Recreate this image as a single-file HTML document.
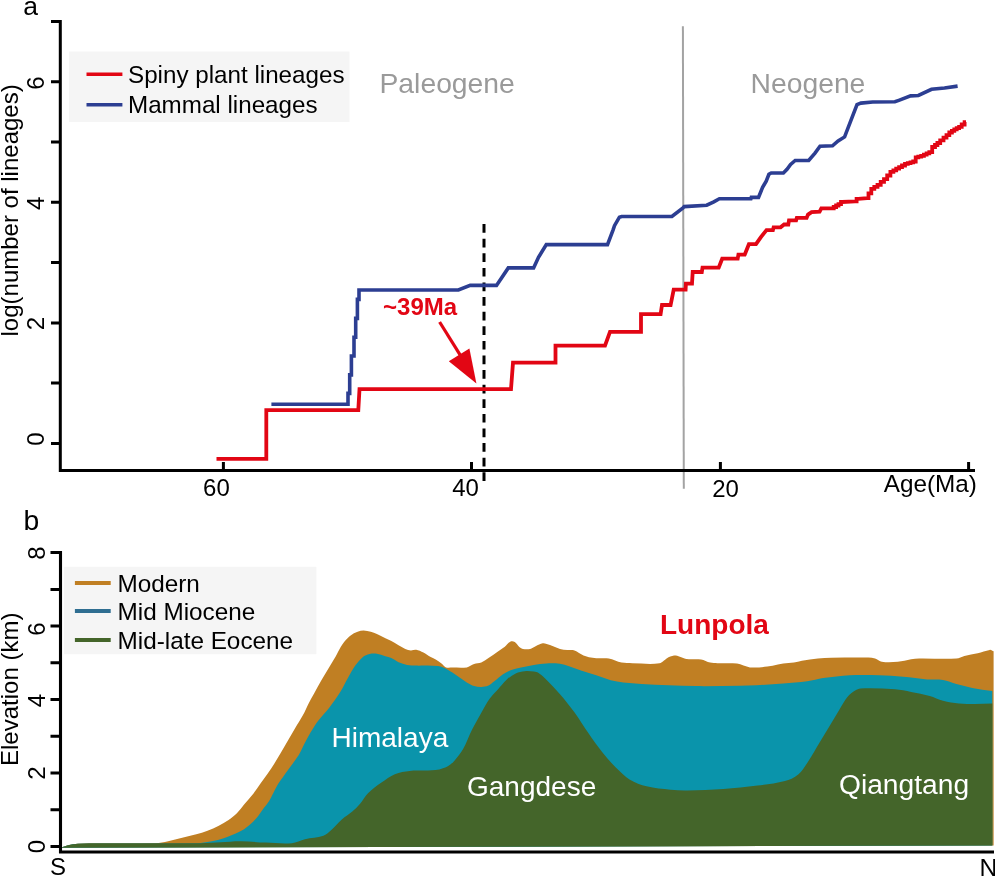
<!DOCTYPE html>
<html><head><meta charset="utf-8"><title>Lineages and elevation</title>
<style>
html,body{margin:0;padding:0;background:#fff;width:995px;height:876px;overflow:hidden}
svg{display:block;will-change:transform}
text{font-family:"Liberation Sans",sans-serif}
.t{fill:#000}
</style></head><body>
<svg width="995" height="876" viewBox="0 0 995 876"><rect width="995" height="876" fill="#fff"/><text x="23.3" y="14.8" class="t" font-size="26.5">a</text><rect x="69" y="51.5" width="280.5" height="70.5" fill="#f5f5f5"/><line x1="86.5" y1="74.3" x2="122.4" y2="74.3" stroke="#e20614" stroke-width="3.6"/><line x1="86.5" y1="104.8" x2="122.4" y2="104.8" stroke="#2c3e92" stroke-width="3.6"/><text x="128" y="82.8" class="t" font-size="24.2">Spiny plant lineages</text><text x="128" y="113" class="t" font-size="24.2">Mammal lineages</text><text x="379.5" y="93" font-size="28.3" fill="#9a9a9a" class="t2">Paleogene</text><text x="750.5" y="93" font-size="28.3" fill="#9a9a9a" class="t2">Neogene</text><line x1="682.9" y1="26.2" x2="683.8" y2="488.8" stroke="#a3a3a3" stroke-width="2"/><path d="M60.3,20 V470.5 M58.8,470.5 H975" stroke="#000" stroke-width="3" fill="none"/><path d="M51,443.4 H60.3 M51,383.1 H60.3 M51,322.9 H60.3 M51,262.6 H60.3 M51,202.3 H60.3 M51,142.0 H60.3 M51,81.8 H60.3 M51,21.5 H60.3 " stroke="#000" stroke-width="3" fill="none"/><path d="M223.4,462 V470.5 M471.5,462 V470.5 M720.4,462 V470.5 M968.6,462 V470.5 " stroke="#000" stroke-width="3" fill="none"/><text transform="translate(44.2,439) rotate(-90)" text-anchor="middle" class="t" font-size="24">0</text><text transform="translate(44.2,323.5) rotate(-90)" text-anchor="middle" class="t" font-size="24">2</text><text transform="translate(44.2,203.4) rotate(-90)" text-anchor="middle" class="t" font-size="24">4</text><text transform="translate(44.2,83) rotate(-90)" text-anchor="middle" class="t" font-size="24">6</text><text transform="translate(17.7,210.4) rotate(-90)" text-anchor="middle" class="t" font-size="24">log(number of lineages)</text><text x="216.4" y="496.1" text-anchor="middle" class="t" font-size="24">60</text><text x="465.6" y="495.8" text-anchor="middle" class="t" font-size="24">40</text><text x="725.6" y="497" text-anchor="middle" class="t" font-size="24">20</text><text x="883.8" y="492.2" class="t" font-size="24.3">Age(Ma)</text><line x1="484" y1="224.1" x2="484" y2="481.2" stroke="#000" stroke-width="3" stroke-dasharray="8.7 5.9"/><polyline points="216.5,458.9 266.3,458.9 266.3,410.1 358.3,410.1 359.5,389.2 511.0,389.2 513.0,362.6 555.5,362.6 555.5,345.7 605.0,345.7 610.0,331.8 641.0,331.8 641.0,314.2 660.6,314.2 662.0,305.0 670.6,305.0 673.7,289.6 685.6,289.6 685.9,283.6 692.0,283.6 692.7,272.0 701.8,272.0 702.5,267.7 718.7,267.7 722.2,258.7 737.7,258.7 738.4,254.7 744.7,254.7 748.9,244.2 756.0,244.2 760.9,237.1 766.5,230.1 772.9,230.1 773.6,227.3 780.6,227.3 784.1,224.5 788.3,224.5 789.0,220.3 796.1,220.3 796.8,217.9 806.6,217.9 808.0,214.6 811.6,212.2 819.6,211.6 821.3,208.4 832.5,208.4 833.7,208.4 833.7,207.0 834.9,207.0 836.1,207.0 836.1,205.5 837.3,205.5 838.5,205.5 838.5,204.1 839.7,204.1 841.0,204.1 841.0,202.0 842.2,202.0 855.0,201.3 856.6,201.3 856.6,198.8 858.2,198.8 867.1,198.1 868.5,198.1 868.5,193.4 869.9,193.4 871.3,193.4 871.3,188.8 872.7,188.8 874.3,188.8 874.3,186.8 875.9,186.8 877.5,186.8 877.5,184.8 879.1,184.8 880.7,184.8 880.7,181.9 882.4,181.9 884.0,181.9 884.0,179.1 885.6,179.1 887.2,179.1 887.2,175.5 888.8,175.5 890.4,175.5 890.4,171.9 892.0,171.9 893.4,171.9 893.4,170.3 894.8,170.3 896.2,170.3 896.2,168.7 897.6,168.7 899.1,168.7 899.1,167.1 900.6,167.1 902.0,167.1 902.0,165.5 903.5,165.5 905.0,165.5 905.0,163.9 906.5,163.9 907.8,163.9 907.8,163.1 909.2,163.1 910.5,163.1 910.5,162.3 911.8,162.3 913.2,162.3 913.2,161.5 914.5,161.5 915.7,161.5 915.7,157.4 916.9,157.4 918.3,157.4 918.3,156.6 919.8,156.6 921.2,156.6 921.2,155.8 922.6,155.8 923.9,155.8 923.9,154.6 925.3,154.6 926.6,154.6 926.6,153.3 927.9,153.3 929.3,153.3 929.3,152.1 930.6,152.1 932.2,152.1 932.2,147.0 933.8,147.0 935.0,147.0 935.0,145.0 936.2,145.0 937.4,145.0 937.4,143.0 938.6,143.0 940.2,143.0 940.2,140.3 941.9,140.3 943.5,140.3 943.5,137.7 945.1,137.7 946.5,137.7 946.5,135.1 947.9,135.1 949.3,135.1 949.3,132.5 950.7,132.5 951.9,132.5 951.9,130.9 953.1,130.9 954.3,130.9 954.3,129.3 955.5,129.3 956.7,129.3 956.7,128.1 957.9,128.1 959.1,128.1 959.1,126.9 960.3,126.9 961.7,126.9 961.7,124.5 963.1,124.5 964.6,124.5 964.6,122.1 966.0,122.1" fill="none" stroke="#e20614" stroke-width="3.8" stroke-linejoin="miter"/><polyline points="271.4,404.2 348.0,404.2 348.0,393.4 349.7,393.4 349.7,374.9 351.4,374.9 351.4,356.0 354.0,356.0 354.0,337.2 355.7,337.2 355.7,318.4 357.4,318.4 357.4,299.4 359.0,299.4 359.0,290.0 458.4,290.0 470.2,285.4 496.5,285.4 508.3,267.9 533.6,267.9 538.5,257.3 546.3,244.6 607.5,244.6 613.1,229.9 614.5,225.7 619.4,217.2 621.6,216.5 671.9,216.5 683.0,207.9 684.2,206.6 706.7,205.2 713.8,201.9 719.4,198.8 750.9,198.7 751.3,197.4 758.5,197.4 762.6,187.4 766.2,181.1 768.9,174.3 771.2,173.0 783.4,173.0 787.0,169.3 790.6,164.4 795.2,160.5 808.7,160.5 815.0,153.1 820.0,146.3 832.5,145.8 838.1,141.0 844.6,136.9 857.0,104.6 860.9,103.1 872.7,102.0 894.9,101.8 898.8,100.4 910.6,95.9 918.4,95.5 931.5,89.3 944.5,88.0 957.6,86.1" fill="none" stroke="#2c3e92" stroke-width="3.6" stroke-linejoin="miter"/><line x1="439.6" y1="322" x2="460.4" y2="355.3" stroke="#e20614" stroke-width="3.2"/><polygon points="448.8,361.2 469.4,348.4 476.4,383.5" fill="#e20614"/><text x="383.1" y="314.9" font-size="24" font-weight="bold" fill="#e20614" class="t2">~39Ma</text><text x="23.4" y="529.6" class="t" font-size="28.3">b</text><path d="M60,847.7 L62.0,847.3 C64.0,846.6 66.0,845.6 68.0,845.2 C71.3,844.5 74.7,843.9 78.0,843.8 C103.8,843.2 129.7,844.0 155.5,843.3 C159.7,843.2 163.9,842.1 168.1,841.2 C172.8,840.2 177.5,838.9 182.2,837.7 C186.9,836.5 191.6,835.5 196.3,834.2 C200.0,833.2 203.8,832.1 207.5,830.7 C211.3,829.3 215.0,827.6 218.8,825.7 C222.1,824.1 225.3,822.3 228.6,820.1 C231.4,818.1 234.3,815.9 237.1,813.1 C239.4,810.8 241.8,807.4 244.1,804.6 C247.3,800.8 250.5,797.3 253.7,793.2 C256.0,790.3 258.2,786.8 260.5,783.6 C262.8,780.4 265.1,777.4 267.4,774.0 C270.1,770.0 272.9,766.0 275.6,761.6 C278.8,756.4 282.0,750.7 285.2,745.2 C288.4,739.7 291.6,734.2 294.8,728.8 C297.5,724.2 300.3,720.1 303.0,715.1 C304.7,712.0 306.4,707.7 308.1,704.4 C310.1,700.5 312.1,697.2 314.1,693.6 C316.5,689.2 319.0,684.6 321.4,680.3 C323.8,676.1 326.2,672.2 328.6,668.2 C331.0,664.2 333.4,660.4 335.8,656.2 C337.4,653.4 339.1,649.9 340.7,647.1 C341.9,645.1 343.1,643.1 344.3,641.7 C346.3,639.3 348.3,637.2 350.3,635.7 C352.7,633.9 355.2,632.7 357.6,631.8 C359.6,631.0 361.6,630.6 363.6,630.6 C366.0,630.6 368.4,631.2 370.8,631.8 C372.8,632.3 374.9,633.1 376.9,633.9 C377.9,634.3 379.0,634.9 380.0,635.4 C383.6,637.2 387.3,638.9 390.9,640.8 C395.7,643.4 400.5,646.6 405.3,648.9 C407.1,649.8 409.0,650.2 410.8,650.4 C412.6,650.5 414.4,649.5 416.2,649.8 C418.6,650.2 421.0,651.4 423.4,652.6 C425.8,653.8 428.3,655.7 430.7,657.1 C432.5,658.1 434.3,658.8 436.1,659.8 C437.9,660.8 439.7,662.0 441.5,663.4 C443.0,664.6 444.5,666.8 446.0,667.4 C448.1,668.2 450.3,667.6 452.4,667.6 C457.2,667.6 462.0,668.2 466.8,667.4 C469.2,667.0 471.7,664.8 474.1,664.0 C476.5,663.2 478.9,663.5 481.3,662.5 C483.7,661.5 486.1,659.6 488.5,658.0 C491.5,656.0 494.6,653.8 497.6,651.7 C500.0,650.1 502.4,648.7 504.8,646.8 C506.6,645.4 508.4,642.5 510.2,641.7 C511.7,641.0 513.3,641.2 514.8,642.1 C516.3,643.0 517.8,645.8 519.3,647.1 C520.5,648.1 521.7,648.7 522.9,648.9 C525.3,649.3 527.7,649.4 530.1,648.9 C531.9,648.5 533.8,647.0 535.6,646.2 C538.0,645.1 540.4,643.4 542.8,643.2 C545.2,643.0 547.6,644.2 550.0,645.0 C553.3,646.1 556.7,647.9 560.0,648.9 C562.4,649.6 564.8,649.7 567.2,650.0 C569.6,650.3 572.1,649.7 574.5,650.5 C577.5,651.5 580.5,654.3 583.5,655.4 C587.1,656.8 590.8,657.7 594.4,658.1 C599.2,658.7 604.0,657.7 608.8,658.5 C613.0,659.2 617.3,661.8 621.5,662.6 C625.1,663.3 628.8,663.1 632.4,663.2 C641.4,663.3 650.5,664.7 659.5,663.2 C662.5,662.7 665.5,658.6 668.5,657.2 C670.9,656.0 673.4,655.4 675.8,655.4 C677.6,655.4 679.4,656.6 681.2,657.2 C683.0,657.8 684.8,658.8 686.6,659.0 C691.4,659.6 696.3,658.8 701.1,659.5 C704.1,660.0 707.1,661.9 710.1,662.6 C712.5,663.2 715.0,663.1 717.4,663.2 C723.9,663.4 730.5,662.8 737.0,663.6 C741.3,664.2 745.7,667.0 750.0,667.4 C755.8,668.0 761.5,667.2 767.3,666.6 C770.8,666.2 774.4,665.2 777.9,664.5 C779.7,664.1 781.5,663.6 783.3,663.4 C786.8,663.0 790.4,663.1 793.9,662.6 C796.6,662.2 799.2,661.2 801.9,660.8 C807.2,659.9 812.6,659.1 817.9,658.6 C822.3,658.1 826.8,657.9 831.2,657.8 C843.6,657.6 856.1,657.4 868.5,657.6 C870.7,657.6 872.9,657.9 875.1,658.6 C877.3,659.3 879.6,661.5 881.8,661.8 C887.1,662.6 892.5,662.3 897.8,661.8 C902.2,661.4 906.7,659.9 911.1,659.2 C913.8,658.8 916.4,658.6 919.1,658.6 C931.5,658.4 944.0,659.3 956.4,658.6 C959.1,658.4 961.7,656.7 964.4,656.0 C968.8,654.9 973.3,654.4 977.7,653.3 C981.7,652.3 985.7,650.6 989.7,649.9 C990.6,649.7 991.4,650.4 992.3,650.7 L993.6,651.2 L993.6,845.6 Z" fill="#c07f23"/><path d="M60,847.7 L62.0,847.3 C64.0,846.6 66.0,845.6 68.0,845.2 C71.3,844.5 74.7,843.9 78.0,843.8 C116.5,843.2 155.0,843.9 193.5,843.3 C198.2,843.2 202.8,842.5 207.5,841.9 C211.3,841.4 215.0,840.7 218.8,839.8 C221.6,839.1 224.4,838.0 227.2,837.0 C230.0,835.9 232.9,834.8 235.7,833.5 C238.5,832.2 241.3,831.0 244.1,829.2 C246.5,827.7 248.8,825.8 251.2,823.6 C253.5,821.4 255.9,818.8 258.2,815.9 C260.1,813.6 261.9,810.7 263.8,808.1 C265.5,805.8 267.1,804.1 268.8,801.4 C270.4,798.9 272.0,795.5 273.6,792.5 C275.2,789.5 276.8,786.1 278.4,783.6 C281.6,778.6 284.8,774.4 288.0,769.9 C291.6,764.8 295.3,760.6 298.9,754.8 C300.7,751.9 302.6,747.3 304.4,743.8 C306.4,739.9 308.5,735.9 310.5,732.5 C313.0,728.3 315.5,724.3 318.0,721.0 C321.9,715.8 325.9,712.1 329.8,706.9 C333.4,702.1 337.1,697.0 340.7,691.2 C343.1,687.4 345.5,682.1 347.9,677.9 C350.3,673.7 352.7,669.2 355.1,665.8 C357.5,662.4 360.0,659.4 362.4,657.4 C364.8,655.5 367.2,654.7 369.6,654.1 C372.0,653.5 374.5,653.5 376.9,653.8 C379.7,654.2 382.5,655.4 385.3,656.2 C387.3,656.8 389.3,657.1 391.3,658.0 C393.7,659.1 396.2,661.1 398.6,662.2 C401.4,663.4 404.3,664.4 407.1,664.9 C410.1,665.5 413.2,665.5 416.2,665.6 C419.8,665.7 423.4,665.5 427.0,665.6 C430.6,665.7 434.3,665.7 437.9,666.1 C439.7,666.3 441.5,666.6 443.3,667.4 C446.3,668.7 449.4,670.6 452.4,672.5 C454.8,674.0 457.2,675.9 459.6,677.5 C462.0,679.1 464.4,681.0 466.8,682.4 C469.2,683.8 471.7,685.2 474.1,686.0 C476.5,686.7 478.9,687.0 481.3,686.9 C483.7,686.8 486.1,686.5 488.5,685.5 C490.3,684.7 492.2,682.9 494.0,681.5 C497.0,679.2 500.0,676.3 503.0,674.3 C506.0,672.3 509.1,670.9 512.1,669.7 C515.1,668.6 518.1,668.1 521.1,667.4 C525.3,666.5 529.6,665.6 533.8,664.9 C538.0,664.2 542.2,663.6 546.4,663.4 C550.9,663.2 555.5,663.2 560.0,663.8 C563.0,664.2 566.0,665.2 569.0,666.2 C573.2,667.6 577.5,669.4 581.7,670.8 C586.5,672.4 591.4,673.7 596.2,675.3 C601.0,676.9 605.9,678.9 610.7,680.2 C614.9,681.3 619.1,682.0 623.3,682.5 C629.3,683.2 635.4,683.6 641.4,684.0 C650.4,684.5 659.5,684.9 668.5,685.2 C677.6,685.6 686.6,686.0 695.7,686.1 C710.5,686.2 725.2,686.0 740.0,685.8 C745.5,685.7 751.1,685.6 756.6,685.3 C765.5,684.8 774.4,684.1 783.3,683.4 C791.3,682.8 799.2,682.4 807.2,681.3 C812.5,680.6 817.9,678.9 823.2,678.1 C832.1,676.8 840.9,675.7 849.8,675.2 C859.6,674.7 869.3,674.9 879.1,675.2 C887.1,675.4 895.1,676.1 903.1,676.8 C911.1,677.5 919.1,678.8 927.1,679.4 C932.4,679.8 937.7,679.2 943.0,680.0 C947.5,680.7 951.9,682.8 956.4,684.0 C961.7,685.4 967.0,686.9 972.3,687.9 C979.0,689.2 985.6,690.0 992.3,691.1 L992.3,691.6 L992.3,845.6 Z" fill="#0a94ab"/><path d="M60,847.7 L62.0,847.3 C64.0,846.6 66.0,845.6 68.0,845.2 C71.3,844.5 74.7,844.0 78.0,843.8 C85.3,843.3 92.7,843.2 100.0,843.2 C133.6,843.0 167.1,843.5 200.7,843.2 C207.4,843.1 214.1,842.5 220.8,842.2 C227.5,841.9 234.3,841.1 241.0,841.2 C249.2,841.3 257.4,842.3 265.6,842.6 C274.4,842.9 283.1,844.0 291.9,843.2 C296.3,842.8 300.6,840.2 305.0,839.2 C311.1,837.8 317.3,837.9 323.4,835.8 C326.0,834.9 328.7,832.3 331.3,830.0 C334.8,826.9 338.3,822.6 341.8,819.5 C345.3,816.4 348.8,814.6 352.3,811.6 C354.9,809.4 357.5,806.8 360.1,803.8 C362.7,800.7 365.4,795.9 368.0,793.3 C372.4,788.9 376.7,785.9 381.1,782.8 C385.7,779.5 390.2,776.1 394.8,774.2 C399.8,772.1 404.7,771.5 409.7,770.9 C414.6,770.3 419.6,770.7 424.5,770.5 C429.4,770.3 434.4,770.4 439.3,769.5 C442.3,768.9 445.2,767.8 448.2,766.1 C450.2,764.9 452.2,763.2 454.2,760.9 C457.2,757.5 460.1,754.2 463.1,749.0 C466.1,743.8 469.0,735.6 472.0,729.7 C475.0,723.8 477.9,718.6 480.9,713.4 C483.9,708.2 486.8,702.8 489.8,698.6 C492.3,695.0 494.9,692.9 497.4,690.0 C500.5,686.5 503.5,682.5 506.6,679.7 C509.6,676.9 512.7,674.8 515.7,673.4 C518.7,672.0 521.7,671.5 524.7,671.2 C527.7,670.9 530.8,671.1 533.8,671.6 C535.6,671.9 537.4,672.2 539.2,673.4 C541.6,674.9 544.0,677.3 546.4,679.7 C550.9,684.2 555.5,688.9 560.0,694.2 C564.9,699.9 569.9,706.0 574.8,712.8 C579.4,719.1 583.9,726.7 588.5,733.3 C593.0,739.8 597.6,746.4 602.1,752.1 C606.7,757.8 611.2,763.0 615.8,767.5 C620.4,772.0 624.9,776.6 629.5,779.4 C635.2,782.9 640.9,784.9 646.6,786.3 C654.6,788.3 662.5,788.9 670.5,789.7 C676.2,790.3 681.9,790.5 687.6,790.4 C699.5,790.2 711.5,789.8 723.4,789.0 C734.8,788.2 746.1,787.1 757.5,785.6 C766.6,784.4 775.8,783.6 784.9,781.1 C789.4,779.9 794.0,778.2 798.5,774.3 C801.9,771.4 805.4,765.8 808.8,760.6 C812.2,755.5 815.6,749.2 819.0,743.5 C822.4,737.8 825.9,732.2 829.3,726.5 C832.6,721.0 835.9,715.4 839.2,710.0 C841.9,705.6 844.5,700.5 847.2,697.3 C849.9,694.1 852.5,692.4 855.2,690.6 C857.0,689.4 858.7,688.6 860.5,688.5 C872.0,688.1 883.6,688.5 895.1,689.3 C900.4,689.7 905.8,690.9 911.1,691.9 C917.3,693.1 923.5,694.2 929.7,695.9 C934.1,697.1 938.6,699.6 943.0,700.7 C948.3,702.1 953.7,702.9 959.0,703.4 C964.3,703.9 969.7,703.9 975.0,703.9 C980.8,703.9 986.5,703.6 992.3,703.4 L992.3,703.9 L992.3,845.6 Z" fill="#44652a"/><path d="M60.5,551 V853.5 M59,852 H994" stroke="#000" stroke-width="3.1" fill="none"/><path d="M50.5,846.4 H60.5 M50.5,809.7 H60.5 M50.5,773.0 H60.5 M50.5,736.2 H60.5 M50.5,699.5 H60.5 M50.5,662.8 H60.5 M50.5,626.1 H60.5 M50.5,589.4 H60.5 M50.5,552.6 H60.5 " stroke="#000" stroke-width="3" fill="none"/><text transform="translate(45.4,846.5) rotate(-90)" text-anchor="middle" class="t" font-size="24">0</text><text transform="translate(45.4,773) rotate(-90)" text-anchor="middle" class="t" font-size="24">2</text><text transform="translate(45.4,700.5) rotate(-90)" text-anchor="middle" class="t" font-size="24">4</text><text transform="translate(45.4,629) rotate(-90)" text-anchor="middle" class="t" font-size="24">6</text><text transform="translate(45.4,553) rotate(-90)" text-anchor="middle" class="t" font-size="24">8</text><text transform="translate(17.8,689.3) rotate(-90)" text-anchor="middle" class="t" font-size="24">Elevation (km)</text><text x="50" y="874.9" class="t" font-size="24">S</text><text x="979.6" y="876" class="t" font-size="24.6">N</text><rect x="64" y="566.8" width="252.4" height="87.4" fill="#f5f5f5"/><line x1="74.9" y1="582.9" x2="110.7" y2="582.9" stroke="#c07f23" stroke-width="4"/><line x1="74.9" y1="611" x2="110.7" y2="611" stroke="#2f6e91" stroke-width="4"/><line x1="74.9" y1="640" x2="110.7" y2="640" stroke="#44652a" stroke-width="4"/><text x="117.5" y="591.7" class="t" font-size="24.3">Modern</text><text x="117.5" y="619.7" class="t" font-size="24.3">Mid Miocene</text><text x="117.5" y="648.7" class="t" font-size="24.3">Mid-late Eocene</text><text x="660" y="633.7" font-size="28" font-weight="bold" fill="#e20614" class="t2">Lunpola</text><text x="331.5" y="747.3" font-size="28" fill="#fff" class="t2">Himalaya</text><text x="467" y="795.9" font-size="28" fill="#fff" class="t2">Gangdese</text><text x="839" y="793.5" font-size="28.2" fill="#fff" class="t2">Qiangtang</text></svg>
</body></html>
